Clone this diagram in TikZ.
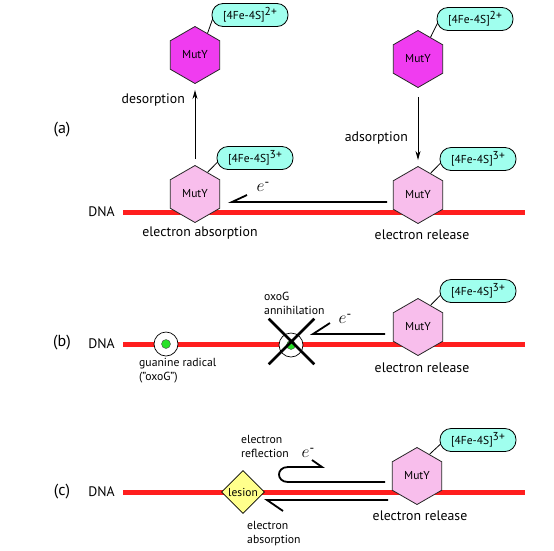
\documentclass[tikz,border=0pt]{standalone}
\usepackage{fontspec}
\setmainfont{PT Sans}
\usetikzlibrary{shapes.geometric,shapes.misc,arrows.meta}
\definecolor{mag}{RGB}{240,60,240}
\definecolor{pinkl}{RGB}{248,190,236}
\definecolor{aqua}{RGB}{160,255,238}
\definecolor{dnared}{RGB}{255,30,30}
\definecolor{lesy}{RGB}{255,255,140}
\definecolor{grn}{RGB}{40,225,40}
\newcommand{\fesq}[1]{[4Fe-4S]\raisebox{4pt}{#1}}
\newcommand{\elecsym}{$e$\raisebox{5pt}{\fontsize{13}{13}\selectfont -}}
\begin{document}
\begin{tikzpicture}[x=1pt,y=-1pt,
 hexa/.style={draw=black!85,line width=0.8pt,regular polygon,regular polygon sides=6,shape border rotate=30,minimum size=57pt,inner sep=0pt,font=\fontsize{11.5}{12}\selectfont},
 tagbox/.style={draw=black,line width=0.8pt,fill=aqua,rounded corners=11pt,minimum width=76pt,minimum height=23pt,inner sep=0pt,font=\fontsize{11.5}{12}\selectfont},
 taglink/.style={draw=black,line width=0.8pt},
 dna/.style={draw=dnared,line width=5pt},
 epath/.style={draw=black,line width=1.8pt},
 moveArr/.style={draw=black,line width=1pt,-{Stealth[length=9pt,width=5pt]},shorten >=6pt,shorten <=6pt},
 lbl/.style={font=\fontsize{13.8}{15}\selectfont,inner sep=0pt},
 panel/.style={font=\fontsize{16}{18}\selectfont,inner sep=0pt},
 small/.style={font=\fontsize{11.7}{14}\selectfont,align=left,inner sep=0pt},
 elec/.style={font=\fontsize{17}{17}\selectfont,inner sep=0pt},
 ring/.style={circle,draw=black,line width=0.7pt,fill=white,minimum size=24pt,inner sep=0pt},
 dot/.style={circle,draw=black!70,line width=0.4pt,fill=grn,minimum size=9pt,inner sep=0pt}]
\useasboundingbox (0,0) rectangle (554,550);

% ---------- panel (a)
\node[panel] (pa) at (62,130) {(a)};
\draw[dna] (123,212) -- (525,212);
\node[lbl,anchor=east] (dnaa) at (115,212) {DNA};
\node[hexa,fill=mag] (h1) at (195,55) {MutY};
\node[tagbox] (t1) at (250,15) {\fesq{2+}};
\draw[taglink] (h1.60) -- ([xshift=1pt,yshift=-4pt]t1.west);
\node[hexa,fill=mag] (h2) at (418,59) {MutY};
\node[tagbox] (t2) at (475,19) {\fesq{2+}};
\draw[taglink] (h2.60) -- ([xshift=1pt,yshift=-4pt]t2.west);
\node[hexa,fill=pinkl] (h3) at (195,194) {MutY};
\node[tagbox] (t3) at (255,158) {\fesq{3+}};
\draw[taglink] (h3.60) -- ([xshift=1pt,yshift=-4pt]t3.west);
\node[hexa,fill=pinkl] (h4) at (418,195) {MutY};
\node[tagbox] (t4) at (478,159) {\fesq{3+}};
\draw[taglink] (h4.60) -- ([xshift=1pt,yshift=-4pt]t4.west);
\draw[moveArr] (h3.north) -- (h1.south);
\draw[moveArr,shorten <=9pt] (h2.south) -- (h4.north);
\node[lbl,anchor=east] (des) at (185,100) {desorption};
\node[lbl,anchor=east] (ads) at (408,138) {adsorption};
\node[lbl] (eab) at (200,233) {electron absorption};
\node[lbl] (erela) at (422,235) {electron release};
\coordinate (ea1) at (387,202);
\coordinate (ea2) at (232,202);
\coordinate (ea3) at (247,195);
\draw[epath] (ea1) -- (ea2) -- (ea3);
\node[elec] (ela) at (263,187) {\elecsym};

% ---------- panel (b)
\node[panel] (pb) at (62,343) {(b)};
\draw[dna] (123,344) -- (525,344);
\node[lbl,anchor=east] (dnab) at (115,344) {DNA};
\node[ring] (g1) at (166,344) {};
\node[dot] (d1) at (g1) {};
\node[ring] (g2) at (291,345) {};
\node[dot] (d2) at (g2) {};
\node[cross out,draw=black,line width=2.6pt,minimum width=43pt,minimum height=43pt,inner sep=0pt] (x1) at (291.5,341.5) {};
\node[small,anchor=west] (grad) at (139,371) {guanine radical\\("oxoG")};
\node[small,anchor=west] (ann) at (264,303) {oxoG\\annihilation};
\node[hexa,fill=pinkl] (h5) at (418,327) {MutY};
\node[tagbox] (t5) at (478,291) {\fesq{3+}};
\draw[taglink] (h5.60) -- ([xshift=1pt,yshift=-4pt]t5.west);
\node[lbl] (erelb) at (422,368) {electron release};
\coordinate (eb1) at (385,334);
\coordinate (eb2) at (313,334);
\coordinate (eb3) at (330,323);
\draw[epath] (eb1) -- (eb2) -- (eb3);
\node[elec] (elb) at (345,319) {\elecsym};

% ---------- panel (c)
\node[panel] (pc) at (62,492) {(c)};
\draw[dna] (123,492) -- (525,492);
\node[lbl,anchor=east] (dnac) at (115,492) {DNA};
\node[diamond,draw=black,line width=0.7pt,fill=lesy,minimum width=43pt,minimum height=43pt,inner sep=0pt,font=\fontsize{11.5}{12}\selectfont] (les) at (243,492) {lesion};
\node[small,anchor=west] (refl) at (241,446) {electron\\reflection};
\node[small,anchor=west] (absc) at (247,534) {electron\\absorption};
\node[hexa,fill=pinkl] (h6) at (417,476) {MutY};
\node[tagbox] (t6) at (478,440) {\fesq{3+}};
\draw[taglink] (h6.60) -- ([xshift=1pt,yshift=-4pt]t6.west);
\node[lbl] (erelc) at (420,516) {electron release};
\coordinate (ec1) at (385,482);
\coordinate (ec2) at (288,482);
\coordinate (ec3) at (288,467);
\coordinate (ec4) at (322,467);
\coordinate (ec5) at (312,460);
\draw[epath] (ec1) -- (ec2) .. controls (276,482) and (276,467) .. (ec3) -- (ec4) -- (ec5);
\coordinate (ed1) at (388,500);
\coordinate (ed2) at (267,500);
\coordinate (ed3) at (283,511);
\draw[epath] (ed1) -- (ed2) -- (ed3);
\node[elec] (elc) at (308,453) {\elecsym};
\end{tikzpicture}
\end{document}
